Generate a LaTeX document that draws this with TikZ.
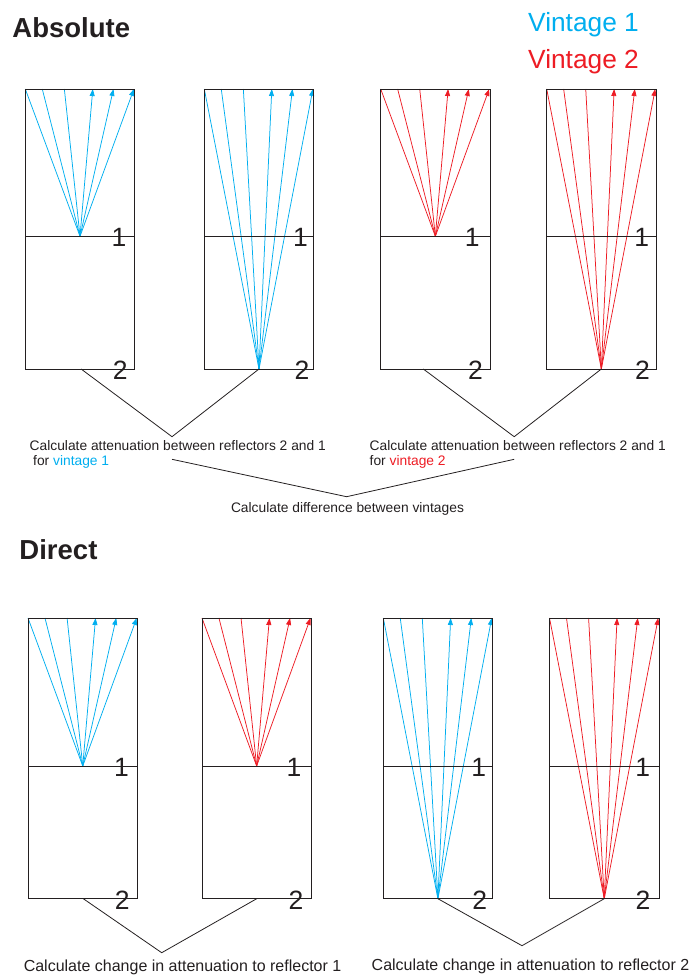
\documentclass[tikz,border=0pt]{standalone}
\usepackage{fontspec}
\setmainfont{Liberation Sans}
\usetikzlibrary{arrows.meta}
\definecolor{vone}{RGB}{0,174,239}
\definecolor{vtwo}{RGB}{237,28,36}
\definecolor{ink}{RGB}{35,31,32}
% #1 left, #2 right, #3 top, #4 mid, #5 bottom, #6 apex y, #7 colour, #8 name
\newcommand{\seisbox}[8]{%
  \coordinate (#8-apex) at ({(#1+#2)/2},#6);
  \foreach \f in {0,0.155,0.357}{\draw[ray,#7] ({#1+\f*(#2-#1)},#3) -- (#8-apex);}
  \foreach \f in {0.617,0.806,0.993}{\draw[ray,#7,tipped] (#8-apex) -- ({#1+\f*(#2-#1)},#3);}
  \draw[frame] (#1,#3) rectangle (#2,#5);
  \draw[frame] (#1,#4) -- (#2,#4);
}
\begin{document}
\begin{tikzpicture}[x=1pt,y=-1pt,
  frame/.style={draw=ink,line width=0.9pt},
  ray/.style={line width=0.75pt},
  link/.style={draw=ink,line width=0.8pt},
  tipped/.style={-{Triangle[length=7pt,width=5pt]}},
  lbl/.style={inner sep=0pt,anchor=base,text=ink,font=\fontsize{26.5}{26.5}\selectfont},
  note/.style={inner sep=0pt,anchor=base west,text=ink,font=\fontsize{13.8}{14.3}\selectfont},
  bignote/.style={inner sep=0pt,anchor=base west,text=ink,font=\fontsize{16}{17}\selectfont},
  title/.style={inner sep=0pt,anchor=base west,text=ink,font=\fontsize{27.5}{28}\selectfont\bfseries},
  legend/.style={inner sep=0pt,anchor=base west,font=\fontsize{26.3}{27}\selectfont}]
\useasboundingbox (0,0) rectangle (695,980);

% titles and legend
\node[title] (tabs) at (12.3,37.3) {Absolute};
\node[title] (tdir) at (19.3,559) {Direct};
\node[legend,text=vone] (leg1) at (528,31.7) {Vintage 1};
\node[legend,text=vtwo] (leg2) at (528,68.3) {Vintage 2};

% Absolute boxes
\seisbox{25.3}{134.7}{89}{236.3}{369}{236.3}{vone}{B1}
\seisbox{204.3}{313.7}{89}{236.3}{369}{369}{vone}{B2}
\seisbox{380.7}{490}{89}{236.3}{369}{236.3}{vtwo}{B3}
\seisbox{546.7}{656}{89}{236.3}{369}{369}{vtwo}{B4}

% Direct boxes
\seisbox{28}{137.5}{618}{766}{898.7}{766}{vone}{C1}
\seisbox{202}{311.3}{618}{766}{898.7}{766}{vtwo}{C2}
\seisbox{383.3}{492.5}{618}{766}{898.7}{898.7}{vone}{C3}
\seisbox{549.5}{659}{618}{766}{898.7}{898.7}{vtwo}{C4}

% reflector labels
\node[lbl] (B1-1) at (119,246.5) {1};
\node[lbl] (B1-2) at (120.3,379) {2};
\node[lbl] (B2-1) at (300.5,246.5) {1};
\node[lbl] (B2-2) at (302,379) {2};
\node[lbl] (B3-1) at (472.3,246.5) {1};
\node[lbl] (B3-2) at (475.5,379) {2};
\node[lbl] (B4-1) at (641.7,246.5) {1};
\node[lbl] (B4-2) at (642.5,379) {2};
\node[lbl] (C1-1) at (121.5,776) {1};
\node[lbl] (C1-2) at (122.2,909) {2};
\node[lbl] (C2-1) at (294,776) {1};
\node[lbl] (C2-2) at (296,909) {2};
\node[lbl] (C3-1) at (478.8,776) {1};
\node[lbl] (C3-2) at (479.7,909) {2};
\node[lbl] (C4-1) at (642.7,776) {1};
\node[lbl] (C4-2) at (643,909) {2};

% connector points
\coordinate (B1-out) at (81.1,369);
\coordinate (B3-out) at (423.3,369);
\coordinate (J1) at (172,436.7);
\coordinate (J2) at (514.2,436.7);
\coordinate (K1) at (172,459.3);
\coordinate (K2) at (514.2,459.3);
\coordinate (M) at (346.6,496.7);
\coordinate (C1-out) at (83.3,898.7);
\coordinate (C2-out) at (256.7,898.7);
\coordinate (J3) at (161.7,952.7);
\coordinate (J4) at (522,945.7);

\draw[link] (B1-out) -- (J1) -- (B2-apex);
\draw[link] (B3-out) -- (J2) -- (B4-apex);
\draw[link] (K1) -- (M) -- (K2);
\draw[link] (C1-out) -- (J3) -- (C2-out);
\draw[link] (C3-apex) -- (J4) -- (C4-apex);

% texts
\node[note] (t1a) at (29.5,450.7) {Calculate attenuation between reflectors 2 and 1};
\node[note] (t1b) at (33,465) {for \textcolor{vone}{vintage 1}};
\node[note] (t2a) at (369.5,450.7) {Calculate attenuation between reflectors 2 and 1};
\node[note] (t2b) at (369.5,465) {for \textcolor{vtwo}{vintage 2}};
\node[note] (t3) at (230.8,512.7) {Calculate difference between vintages};
\node[bignote] (t4) at (23.6,971.7) {Calculate change in attenuation to reflector 1};
\node[bignote] (t5) at (371.5,970.7) {Calculate change in attenuation to reflector 2};
\end{tikzpicture}
\end{document}
